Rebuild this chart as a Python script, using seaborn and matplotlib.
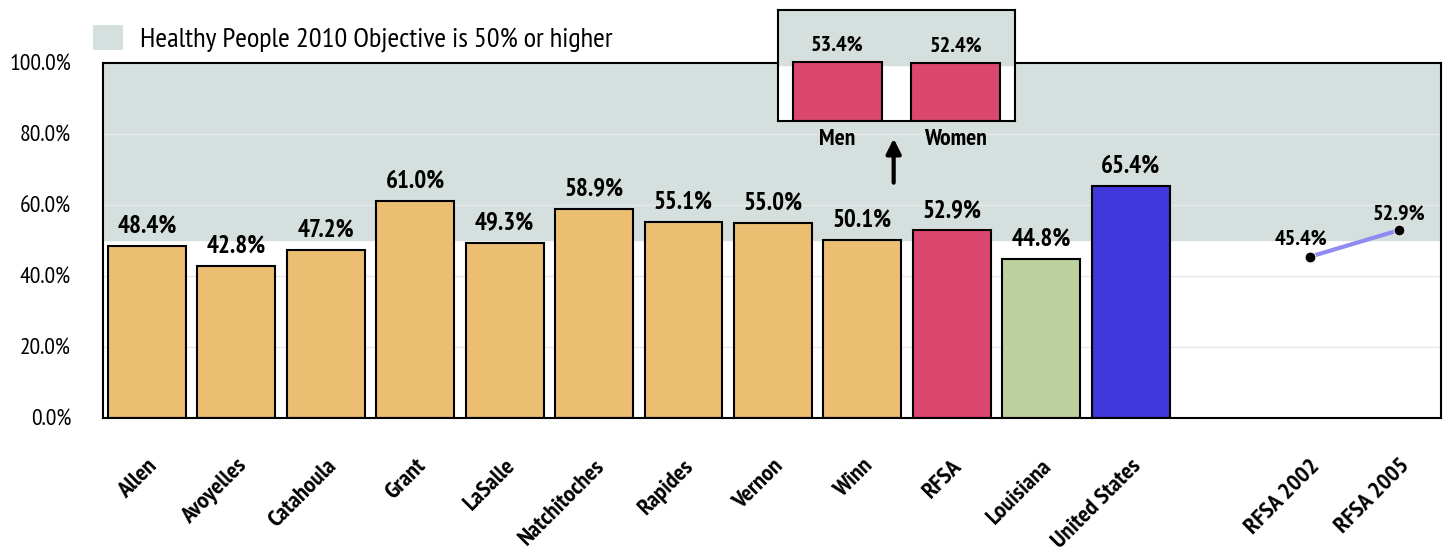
import numpy as np
import pandas as pd
import matplotlib.pyplot as plt
import seaborn as sns
from matplotlib.patches import Patch
from matplotlib.ticker import FuncFormatter

# Dados
areas = ["Allen", "Avoyelles", "Catahoula", "Grant", "LaSalle", "Natchitoches",
         "Rapides", "Vernon", "Winn", "RFSA", "Louisiana", "United States"]
pct = [48.4, 42.8, 47.2, 61.0, 49.3, 58.9, 55.1, 55.0, 50.1, 52.9, 44.8, 65.4]
bar_colors = ["#EBBE72"] * 9 + ["#DC4770", "#BDD1A0", "#4038DB"]

trend_labels = ["RFSA 2002", "RFSA 2005"]
trend_pct = [45.4, 52.9]

sex_labels = ["Men", "Women"]
sex_pct = [53.4, 52.4]

objective = 50
shade = "#D5DFDE"

sns.set_theme(style="white")
plt.rcParams["font.family"] = ["PT Sans Narrow", "Asap Condensed", "Archivo Narrow",
                               "Liberation Sans", "DejaVu Sans"]
plt.rcParams["text.color"] = "black"
plt.rcParams["xtick.color"] = "black"
plt.rcParams["ytick.color"] = "black"

fig = plt.figure(figsize=(14.49, 5.54), dpi=100)
ax = fig.add_axes([0.0711, 0.2455, 0.9234, 0.6408])

pos = list(range(len(areas)))
trend_pos = [len(areas) + 1, len(areas) + 2]

ax.axhspan(objective, 100, color=shade, zorder=0)
for yv in [20, 40, 60, 80]:
    ax.axhline(yv, color="#e6e9e9", linewidth=1, zorder=0.5)

df = pd.DataFrame({"pos": pos, "area": areas, "pct": pct})
sns.barplot(data=df, x="pos", y="pct", hue="area", palette=dict(zip(areas, bar_colors)),
            native_scale=True, dodge=False, width=0.87, saturation=1, edgecolor="black",
            linewidth=1.5, legend=False, ax=ax, zorder=2)

for c in ax.containers:
    ax.bar_label(c, fmt="%.1f%%", padding=6, fontsize=18, fontweight="bold")

# Tendência RFSA
sns.lineplot(x=trend_pos, y=trend_pct, color="#8F8BF0", linewidth=3, ax=ax, zorder=3)
sns.scatterplot(x=trend_pos, y=trend_pct, color="black", s=60, ax=ax, zorder=4)
ax.annotate(f"{trend_pct[0]:.1f}%", (trend_pos[0], trend_pct[0]), xytext=(-6, 6),
            textcoords="offset points", ha="center", va="bottom", fontsize=16, fontweight="bold")
ax.annotate(f"{trend_pct[1]:.1f}%", (trend_pos[1], trend_pct[1]), xytext=(0, 5),
            textcoords="offset points", ha="center", va="bottom", fontsize=16, fontweight="bold")

ax.set_xlim(-0.49, 14.47)
ax.set_ylim(0, 100)
ax.set_yticks([0, 20, 40, 60, 80, 100])
ax.yaxis.set_major_formatter(FuncFormatter(lambda v, p: f"{v:.1f}%"))
ax.tick_params(axis="y", labelsize=17, length=0, pad=23)
ax.set_xticks(pos + trend_pos)
ax.set_xticklabels(areas + trend_labels, rotation=45, ha="right",
                   rotation_mode="anchor", fontsize=17.5, fontweight="bold")
ax.tick_params(axis="x", length=0, pad=27)
ax.set_xlabel("")
ax.set_ylabel("")
for s in ax.spines.values():
    s.set_color("black")
    s.set_linewidth(1.5)

# Seta para o detalhe por sexo
ax.annotate("", xy=(8.35, 79.5), xytext=(8.35, 65.5),
            arrowprops=dict(arrowstyle="-|>", color="black", lw=3, mutation_scale=22))

# Legenda
ax.legend(handles=[Patch(facecolor=shade, edgecolor="none",
                         label="Healthy People 2010 Objective is 50% or higher")],
          loc="lower left", bbox_to_anchor=(-0.02, 0.98), frameon=False,
          fontsize=20.5, handlelength=1.05, handleheight=1.0, handletextpad=0.6,
          borderaxespad=0.2)

# Detalhe por sexo
ins = fig.add_axes([0.5369, 0.7816, 0.1636, 0.2004])
ins.axhspan(objective, 100, color=shade, zorder=0)
sns.barplot(x=sex_labels, y=sex_pct, color="#DC4770", width=0.75, saturation=1,
            edgecolor="black", linewidth=1.5, ax=ins, zorder=2)
for c in ins.containers:
    ins.bar_label(c, fmt="%.1f%%", padding=5, fontsize=16, fontweight="bold")
ins.set_xlim(-0.5, 1.5)
ins.set_ylim(0, 100)
ins.set_yticks([])
ins.set_xlabel("")
ins.set_ylabel("")
ins.tick_params(axis="x", length=0, pad=6, labelsize=17)
for t in ins.get_xticklabels():
    t.set_fontweight("bold")
for s in ins.spines.values():
    s.set_color("black")
    s.set_linewidth(1.5)

fig.savefig("out.png", dpi=100)
